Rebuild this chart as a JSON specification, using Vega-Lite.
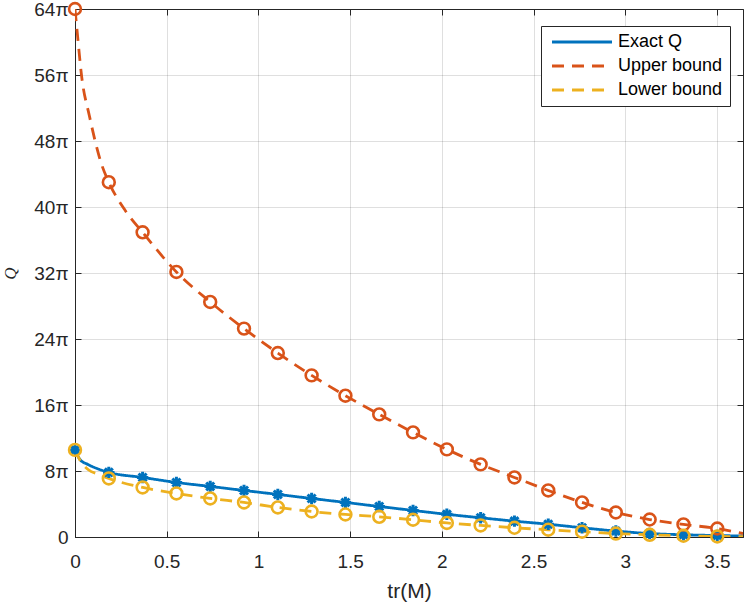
{
  "$schema": "https://vega.github.io/schema/vega-lite/v6.json",
  "width": 668,
  "height": 528,
  "autosize": {"type": "none"},
  "padding": {"left": 75, "top": 9, "right": 4, "bottom": 65},
  "background": "white",
  "config": {
    "font": "Liberation Sans",
    "view": {"stroke": "#262626", "strokeWidth": 1},
    "axis": {
      "domainColor": "#262626",
      "tickColor": "#262626",
      "tickSize": -6,
      "labelFlush": false,
      "labelColor": "#262626",
      "labelFontSize": 19,
      "labelFont": "Liberation Sans",
      "titleColor": "#262626",
      "titleFontWeight": "normal",
      "gridColor": "#262626",
      "gridOpacity": 0.15
    }
  },
  "datasets": {
    "curves": [
      {"series": "Exact Q", "tr": 0, "q": 10.56},
      {"series": "Exact Q", "tr": 0.027, "q": 9.4},
      {"series": "Exact Q", "tr": 0.07, "q": 8.8},
      {"series": "Exact Q", "tr": 0.12, "q": 8.3},
      {"series": "Exact Q", "tr": 0.1843, "q": 7.83},
      {"series": "Exact Q", "tr": 0.3686, "q": 7.22},
      {"series": "Exact Q", "tr": 0.5529, "q": 6.61},
      {"series": "Exact Q", "tr": 0.7372, "q": 6.13},
      {"series": "Exact Q", "tr": 0.9215, "q": 5.64},
      {"series": "Exact Q", "tr": 1.1058, "q": 5.16},
      {"series": "Exact Q", "tr": 1.2901, "q": 4.67},
      {"series": "Exact Q", "tr": 1.4744, "q": 4.19},
      {"series": "Exact Q", "tr": 1.6587, "q": 3.70},
      {"series": "Exact Q", "tr": 1.843, "q": 3.22},
      {"series": "Exact Q", "tr": 2.0273, "q": 2.75},
      {"series": "Exact Q", "tr": 2.2116, "q": 2.33},
      {"series": "Exact Q", "tr": 2.3959, "q": 1.92},
      {"series": "Exact Q", "tr": 2.5802, "q": 1.55},
      {"series": "Exact Q", "tr": 2.7645, "q": 1.12},
      {"series": "Exact Q", "tr": 2.9488, "q": 0.72},
      {"series": "Exact Q", "tr": 3.1331, "q": 0.42},
      {"series": "Exact Q", "tr": 3.3174, "q": 0.27},
      {"series": "Exact Q", "tr": 3.5017, "q": 0.18},
      {"series": "Exact Q", "tr": 3.642, "q": 0.12},
      {"series": "Upper bound", "tr": 0, "q": 64},
      {"series": "Upper bound", "tr": 0.0127, "q": 61.05},
      {"series": "Upper bound", "tr": 0.0364, "q": 55.8},
      {"series": "Upper bound", "tr": 0.078, "q": 51.1},
      {"series": "Upper bound", "tr": 0.146, "q": 45.1},
      {"series": "Upper bound", "tr": 0.1843, "q": 43.01},
      {"series": "Upper bound", "tr": 0.273, "q": 39.6},
      {"series": "Upper bound", "tr": 0.3686, "q": 36.93},
      {"series": "Upper bound", "tr": 0.5529, "q": 32.13},
      {"series": "Upper bound", "tr": 0.7372, "q": 28.49},
      {"series": "Upper bound", "tr": 0.9215, "q": 25.26},
      {"series": "Upper bound", "tr": 1.1058, "q": 22.30},
      {"series": "Upper bound", "tr": 1.2901, "q": 19.59},
      {"series": "Upper bound", "tr": 1.4744, "q": 17.13},
      {"series": "Upper bound", "tr": 1.6587, "q": 14.86},
      {"series": "Upper bound", "tr": 1.843, "q": 12.68},
      {"series": "Upper bound", "tr": 2.0273, "q": 10.62},
      {"series": "Upper bound", "tr": 2.2116, "q": 8.80},
      {"series": "Upper bound", "tr": 2.3959, "q": 7.22},
      {"series": "Upper bound", "tr": 2.5802, "q": 5.64},
      {"series": "Upper bound", "tr": 2.7645, "q": 4.19},
      {"series": "Upper bound", "tr": 2.9488, "q": 2.97},
      {"series": "Upper bound", "tr": 3.1331, "q": 2.12},
      {"series": "Upper bound", "tr": 3.3174, "q": 1.52},
      {"series": "Upper bound", "tr": 3.5017, "q": 1.03},
      {"series": "Upper bound", "tr": 3.642, "q": 0.42},
      {"series": "Lower bound", "tr": 0, "q": 10.56},
      {"series": "Lower bound", "tr": 0.03, "q": 9.2},
      {"series": "Lower bound", "tr": 0.073, "q": 8.15},
      {"series": "Lower bound", "tr": 0.127, "q": 7.6},
      {"series": "Lower bound", "tr": 0.1843, "q": 7.10},
      {"series": "Lower bound", "tr": 0.3686, "q": 6.01},
      {"series": "Lower bound", "tr": 0.5529, "q": 5.28},
      {"series": "Lower bound", "tr": 0.7372, "q": 4.67},
      {"series": "Lower bound", "tr": 0.9215, "q": 4.19},
      {"series": "Lower bound", "tr": 1.1058, "q": 3.58},
      {"series": "Lower bound", "tr": 1.2901, "q": 3.09},
      {"series": "Lower bound", "tr": 1.4744, "q": 2.73},
      {"series": "Lower bound", "tr": 1.6587, "q": 2.45},
      {"series": "Lower bound", "tr": 1.843, "q": 2.09},
      {"series": "Lower bound", "tr": 2.0273, "q": 1.70},
      {"series": "Lower bound", "tr": 2.2116, "q": 1.40},
      {"series": "Lower bound", "tr": 2.3959, "q": 1.12},
      {"series": "Lower bound", "tr": 2.5802, "q": 0.88},
      {"series": "Lower bound", "tr": 2.7645, "q": 0.64},
      {"series": "Lower bound", "tr": 2.9488, "q": 0.42},
      {"series": "Lower bound", "tr": 3.1331, "q": 0.27},
      {"series": "Lower bound", "tr": 3.3174, "q": 0.15},
      {"series": "Lower bound", "tr": 3.5017, "q": 0.06},
      {"series": "Lower bound", "tr": 3.642, "q": 0.03}
    ],
    "markers": [
      {"series": "Exact Q", "tr": 0, "q": 10.56},
      {"series": "Exact Q", "tr": 0.1843, "q": 7.83},
      {"series": "Exact Q", "tr": 0.3686, "q": 7.22},
      {"series": "Exact Q", "tr": 0.5529, "q": 6.61},
      {"series": "Exact Q", "tr": 0.7372, "q": 6.13},
      {"series": "Exact Q", "tr": 0.9215, "q": 5.64},
      {"series": "Exact Q", "tr": 1.1058, "q": 5.16},
      {"series": "Exact Q", "tr": 1.2901, "q": 4.67},
      {"series": "Exact Q", "tr": 1.4744, "q": 4.19},
      {"series": "Exact Q", "tr": 1.6587, "q": 3.70},
      {"series": "Exact Q", "tr": 1.843, "q": 3.22},
      {"series": "Exact Q", "tr": 2.0273, "q": 2.75},
      {"series": "Exact Q", "tr": 2.2116, "q": 2.33},
      {"series": "Exact Q", "tr": 2.3959, "q": 1.92},
      {"series": "Exact Q", "tr": 2.5802, "q": 1.55},
      {"series": "Exact Q", "tr": 2.7645, "q": 1.12},
      {"series": "Exact Q", "tr": 2.9488, "q": 0.72},
      {"series": "Exact Q", "tr": 3.1331, "q": 0.42},
      {"series": "Exact Q", "tr": 3.3174, "q": 0.27},
      {"series": "Exact Q", "tr": 3.5017, "q": 0.18},
      {"series": "Upper bound", "tr": 0, "q": 64},
      {"series": "Upper bound", "tr": 0.1843, "q": 43.01},
      {"series": "Upper bound", "tr": 0.3686, "q": 36.93},
      {"series": "Upper bound", "tr": 0.5529, "q": 32.13},
      {"series": "Upper bound", "tr": 0.7372, "q": 28.49},
      {"series": "Upper bound", "tr": 0.9215, "q": 25.26},
      {"series": "Upper bound", "tr": 1.1058, "q": 22.30},
      {"series": "Upper bound", "tr": 1.2901, "q": 19.59},
      {"series": "Upper bound", "tr": 1.4744, "q": 17.13},
      {"series": "Upper bound", "tr": 1.6587, "q": 14.86},
      {"series": "Upper bound", "tr": 1.843, "q": 12.68},
      {"series": "Upper bound", "tr": 2.0273, "q": 10.62},
      {"series": "Upper bound", "tr": 2.2116, "q": 8.80},
      {"series": "Upper bound", "tr": 2.3959, "q": 7.22},
      {"series": "Upper bound", "tr": 2.5802, "q": 5.64},
      {"series": "Upper bound", "tr": 2.7645, "q": 4.19},
      {"series": "Upper bound", "tr": 2.9488, "q": 2.97},
      {"series": "Upper bound", "tr": 3.1331, "q": 2.12},
      {"series": "Upper bound", "tr": 3.3174, "q": 1.52},
      {"series": "Upper bound", "tr": 3.5017, "q": 1.03},
      {"series": "Lower bound", "tr": 0, "q": 10.56},
      {"series": "Lower bound", "tr": 0.1843, "q": 7.10},
      {"series": "Lower bound", "tr": 0.3686, "q": 6.01},
      {"series": "Lower bound", "tr": 0.5529, "q": 5.28},
      {"series": "Lower bound", "tr": 0.7372, "q": 4.67},
      {"series": "Lower bound", "tr": 0.9215, "q": 4.19},
      {"series": "Lower bound", "tr": 1.1058, "q": 3.58},
      {"series": "Lower bound", "tr": 1.2901, "q": 3.09},
      {"series": "Lower bound", "tr": 1.4744, "q": 2.73},
      {"series": "Lower bound", "tr": 1.6587, "q": 2.45},
      {"series": "Lower bound", "tr": 1.843, "q": 2.09},
      {"series": "Lower bound", "tr": 2.0273, "q": 1.70},
      {"series": "Lower bound", "tr": 2.2116, "q": 1.40},
      {"series": "Lower bound", "tr": 2.3959, "q": 1.12},
      {"series": "Lower bound", "tr": 2.5802, "q": 0.88},
      {"series": "Lower bound", "tr": 2.7645, "q": 0.64},
      {"series": "Lower bound", "tr": 2.9488, "q": 0.42},
      {"series": "Lower bound", "tr": 3.1331, "q": 0.27},
      {"series": "Lower bound", "tr": 3.3174, "q": 0.15},
      {"series": "Lower bound", "tr": 3.5017, "q": 0.06}
    ]
  },
  "layer": [
    {
      "data": {"name": "curves"},
      "mark": {"type": "line", "strokeWidth": 2.8, "interpolate": "monotone", "clip": true},
      "encoding": {
        "x": {
          "field": "tr", "type": "quantitative",
          "scale": {"domain": [0, 3.642], "nice": false, "zero": false},
          "axis": {"values": [0, 0.5, 1, 1.5, 2, 2.5, 3, 3.5], "format": "~g", "title": "tr(M)", "titleFontSize": 21, "titlePadding": 9, "labelPadding": 21, "grid": true}
        },
        "y": {
          "field": "q", "type": "quantitative",
          "scale": {"domain": [0, 64], "nice": false},
          "axis": {
            "values": [0, 8, 16, 24, 32, 40, 48, 56, 64],
            "labelExpr": "datum.value == 0 ? '0' : datum.value + 'π'",
            "labelPadding": 13,
            "grid": true,
            "title": "Q",
            "titleFont": "Liberation Serif",
            "titleFontStyle": "italic",
            "titleFontSize": 17,
            "titleX": -60,
            "titleY": 264,
            "titleBaseline": "alphabetic"
          }
        },
        "color": {
          "field": "series", "type": "nominal",
          "scale": {"domain": ["Exact Q", "Upper bound", "Lower bound"], "range": ["#0072BD", "#D95319", "#EDB120"]},
          "legend": {
            "title": null,
            "orient": "none",
            "legendX": 466,
            "legendY": 17,
            "symbolType": "M-1,0H11",
            "symbolSize": 100,
            "symbolStrokeWidth": 3,
            "labelFontSize": 18,
            "labelColor": "#000000",
            "labelOffset": 52,
            "padding": 7,
            "rowPadding": 6,
            "strokeColor": "#262626",
            "fillColor": "white"
          }
        },
        "strokeDash": {
          "field": "series", "type": "nominal",
          "scale": {"domain": ["Exact Q", "Upper bound", "Lower bound"], "range": [[1, 0], [12, 8], [12, 8]]},
          "legend": null
        }
      }
    },
    {
      "data": {"name": "markers"},
      "transform": [{"filter": "datum.series == 'Exact Q'"}],
      "mark": {"type": "point", "shape": "M-1,0H1M0,-1V1M-0.7,-0.7L0.7,0.7M-0.7,0.7L0.7,-0.7", "filled": false, "size": 130, "strokeWidth": 3, "color": "#0072BD", "opacity": 1},
      "encoding": {
        "x": {"field": "tr", "type": "quantitative", "axis": null},
        "y": {"field": "q", "type": "quantitative", "axis": null}
      }
    },
    {
      "data": {"name": "markers"},
      "transform": [{"filter": "datum.series == 'Upper bound'"}],
      "mark": {"type": "point", "shape": "circle", "filled": false, "size": 140, "strokeWidth": 2.6, "color": "#D95319", "opacity": 1},
      "encoding": {
        "x": {"field": "tr", "type": "quantitative", "axis": null},
        "y": {"field": "q", "type": "quantitative", "axis": null}
      }
    },
    {
      "data": {"name": "markers"},
      "transform": [{"filter": "datum.series == 'Lower bound'"}],
      "mark": {"type": "point", "shape": "circle", "filled": false, "size": 140, "strokeWidth": 2.6, "color": "#EDB120", "opacity": 1},
      "encoding": {
        "x": {"field": "tr", "type": "quantitative", "axis": {"orient": "top", "values": [0, 0.5, 1, 1.5, 2, 2.5, 3, 3.5], "labels": false, "grid": false, "domain": false, "title": null}},
        "y": {"field": "q", "type": "quantitative", "axis": {"orient": "right", "values": [0, 8, 16, 24, 32, 40, 48, 56, 64], "labels": false, "grid": false, "domain": false, "title": null}}
      }
    }
  ],
  "resolve": {"axis": {"x": "independent", "y": "independent"}}
}
